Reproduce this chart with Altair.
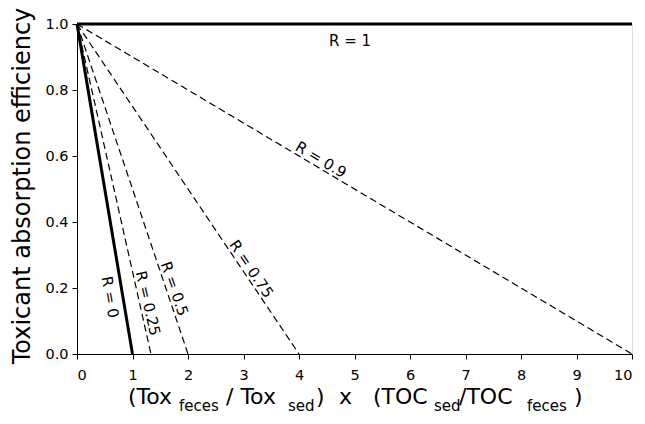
import altair as alt
import pandas as pd

# ---- data ----
r_values = [0, 0.25, 0.5, 0.75, 0.9, 1]
x_start = [0, 0, 0, 0, 0, 0]
y_start = [1, 1, 1, 1, 1, 1]
x_end = [1, 1.333, 2, 4, 10, 10]
y_end = [0, 0, 0, 0, 0, 1]
solid_series = [0, 1]

# horizontal label (below the R = 1 line)
flat_text = ["R = 1"]
flat_x = [4.92]
flat_y = [0.948]

# sloped labels: anchor points (text sits just above/right of the anchor)
label_text = ["R = 0.9", "R = 0.75", "R = 0.5", "R = 0.25", "R = 0"]
label_x = [4.32, 3.02, 1.62, 1.137, 0.452]
label_y = [0.568, 0.244, 0.19, 0.148, 0.168]
label_angle = [31, 56, 71, 77, 80]

x_ticks = [0, 1, 2, 3, 4, 5, 6, 7, 8, 9, 10]
y_ticks = [0.0, 0.2, 0.4, 0.6, 0.8, 1.0]

FONT = "DejaVu Sans"
W, H = 555, 330

rows = []
for r, xs, ys, xe, ye in zip(r_values, x_start, y_start, x_end, y_end):
    kind = "solid" if r in solid_series else "dashed"
    rows.append({"R": str(r), "x": xs, "y": ys, "kind": kind, "o": 0})
    rows.append({"R": str(r), "x": xe, "y": ye, "kind": kind, "o": 1})
lines_df = pd.DataFrame(rows)

xscale = alt.Scale(domain=[0, 10], nice=False)
yscale = alt.Scale(domain=[0, 1], nice=False)

xaxis = alt.Axis(values=x_ticks, format="d", title=None, grid=False,
                 labelFontSize=14.5, labelPadding=9, tickSize=5,
                 domainColor="black", tickColor="black", labelColor="black")
yaxis = alt.Axis(values=y_ticks, format=".1f", title=None, grid=False,
                 labelFontSize=14.5, labelPadding=4, tickSize=5,
                 domainColor="black", tickColor="black", labelColor="black")

base = alt.Chart(lines_df)
solid = base.transform_filter(alt.datum.kind == "solid").mark_line(
    color="black", strokeWidth=3).encode(
    x=alt.X("x:Q", scale=xscale, axis=xaxis),
    y=alt.Y("y:Q", scale=yscale, axis=yaxis),
    detail="R:N", order="o:Q")
dashed = base.transform_filter(alt.datum.kind == "dashed").mark_line(
    color="black", strokeWidth=1.2, strokeDash=[7, 4]).encode(
    x=alt.X("x:Q", scale=xscale),
    y=alt.Y("y:Q", scale=yscale),
    detail="R:N", order="o:Q")

flat_df = pd.DataFrame({"t": flat_text, "x": flat_x, "y": flat_y})
flat = alt.Chart(flat_df).mark_text(
    font=FONT, fontSize=15, color="black", align="center", baseline="middle").encode(
    x=alt.X("x:Q", scale=xscale), y=alt.Y("y:Q", scale=yscale), text="t:N")

labels_df = pd.DataFrame({"t": label_text, "x": label_x, "y": label_y,
                          "a": label_angle})
labels = alt.Chart(labels_df).mark_text(
    font=FONT, fontSize=15, color="black", align="center", baseline="bottom").encode(
    x=alt.X("x:Q", scale=xscale), y=alt.Y("y:Q", scale=yscale),
    text="t:N", angle=alt.Angle("a:Q", scale=None))

# axis titles (with subscripts) as text annotations, positions relative to plot origin
ox, oy = 77, 24
title_pieces = [
    ("(Tox", 128, 404, 22),
    ("feces", 179, 411, 15),
    ("/ Tox", 226, 404, 22),
    ("sed", 288, 411, 15),
    (")", 316, 404, 22),
    ("x", 339, 404, 22),
    ("(TOC", 373, 404, 22),
    ("sed", 434, 411, 15),
    ("/TOC", 459, 404, 22),
    ("feces", 527, 411, 15),
    (")", 574, 404, 22),
]
one = pd.DataFrame({"d": [0]})
title_layers = []
for txt, px, py, fs in title_pieces:
    title_layers.append(alt.Chart(one).mark_text(
        font=FONT, fontSize=fs, color="black", align="left",
        baseline="alphabetic", text=txt).encode(
        x=alt.value(px - ox), y=alt.value(py - oy)))

ytitle = alt.Chart(one).mark_text(
    font=FONT, fontSize=24, color="black", align="center", baseline="alphabetic",
    angle=270, text="Toxicant absorption efficiency").encode(
    x=alt.value(30 - ox), y=alt.value(186 - oy))

chart = alt.layer(solid, dashed, flat, labels, ytitle, *title_layers).properties(
    width=W, height=H,
    autosize=alt.AutoSizeParams(type="none"),
    padding={"left": 69, "top": 16, "right": 5, "bottom": 62},
).configure_view(stroke=None).configure(font=FONT).configure_axis(
    labelFont=FONT, domainWidth=1, tickWidth=1)

chart.save("out.html", embed_options={"renderer": "svg", "actions": False})
